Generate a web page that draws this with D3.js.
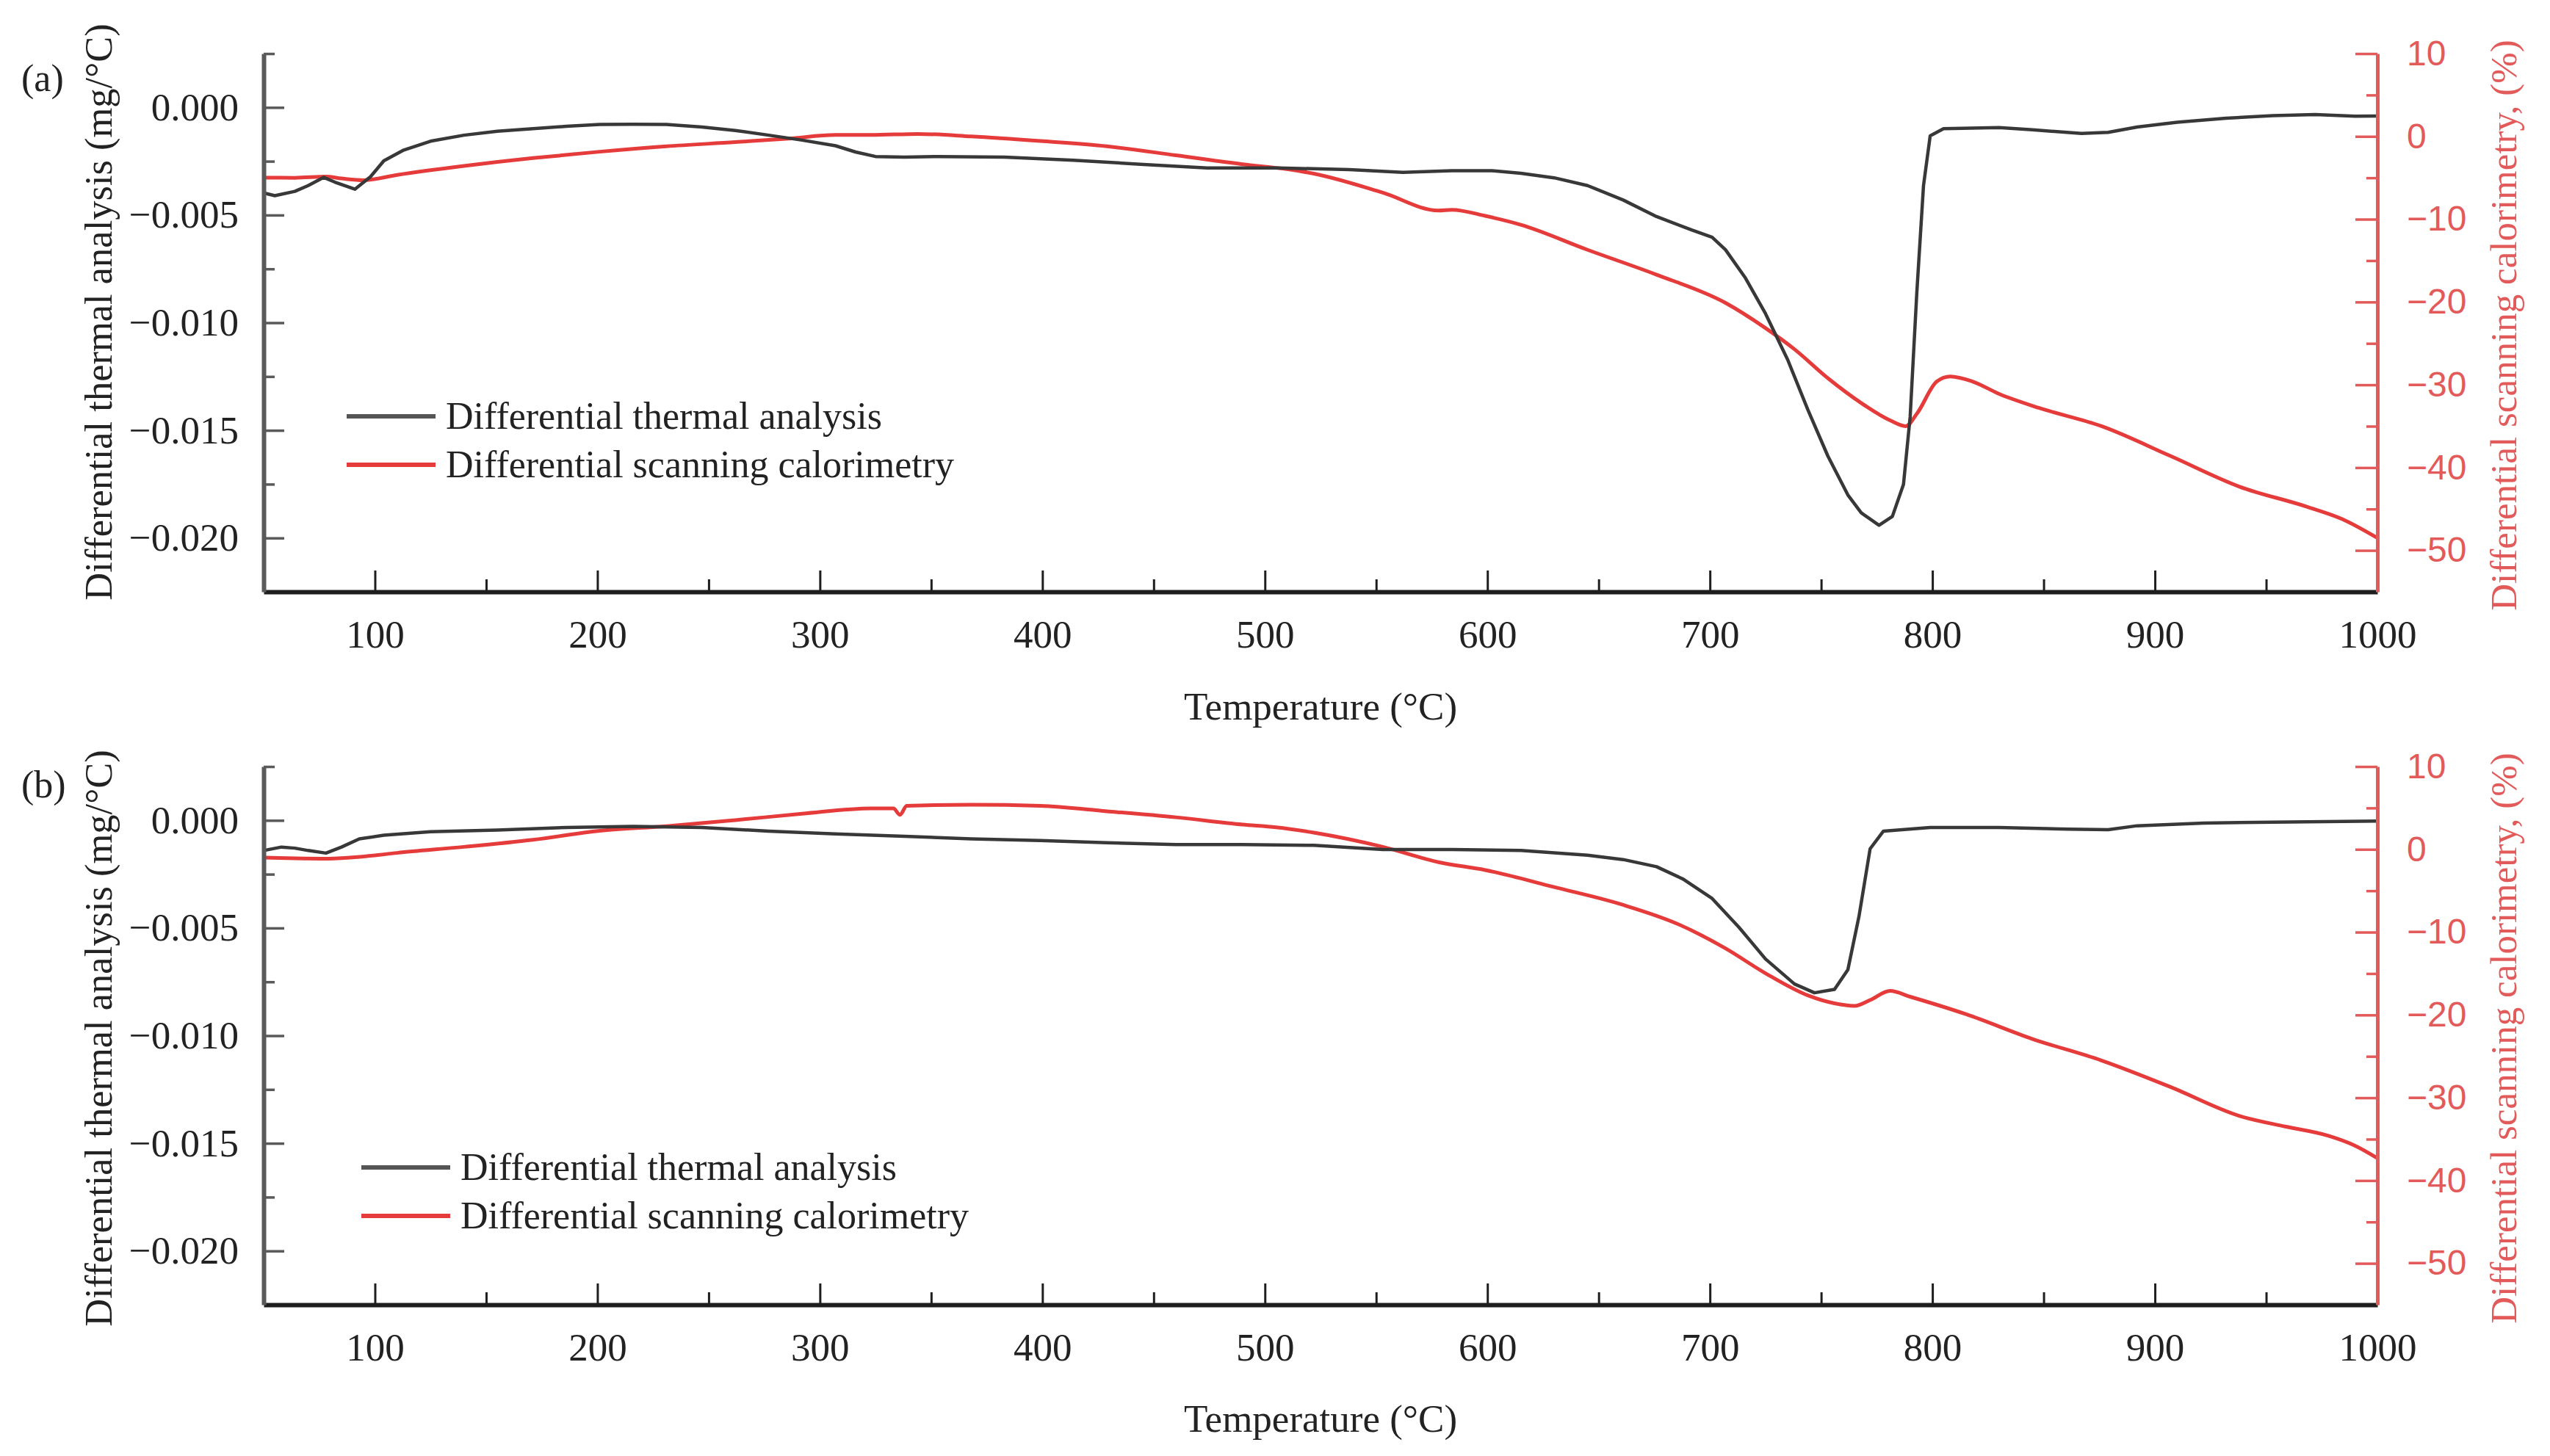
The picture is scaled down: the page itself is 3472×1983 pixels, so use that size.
<!DOCTYPE html>
<html>
<head>
<meta charset="utf-8">
<script src="https://cdn.jsdelivr.net/npm/d3@7"></script>
<style>
  html, body { margin: 0; padding: 0; background: #fff; }
  svg { display: block; }
</style>
</head>
<body>
<svg id="chart" width="3472" height="1983"></svg>
<script>
// ---------------- DATA ----------------
const xMajorTicks = [100, 200, 300, 400, 500, 600, 700, 800, 900, 1000];
const xMinorTicks = [150, 250, 350, 450, 550, 650, 750, 850, 950];
const leftMajorTicks = [0, -0.005, -0.010, -0.015, -0.020];
const leftMinorTicks = [0.0025, -0.0025, -0.0075, -0.0125, -0.0175];
const rightMajorTicks = [10, 0, -10, -20, -30, -40, -50];
const rightMinorTicks = [5, -5, -15, -25, -35, -45];
const panelLabels = ["(a)", "(b)"];
const seriesNames = ["Differential thermal analysis", "Differential scanning calorimetry"];
const xTitle = "Temperature (°C)";
const leftTitle = "Differential thermal analysis (mg/°C)";
const rightTitle = "Differential scanning calorimetry, (%)";

// panel (a) DTA [temperature °C, mg/°C]
const dtaA = [[50,-0.00397],[55,-0.0041],[64,-0.0039],[70,-0.00363],[77,-0.00325],[82,-0.00347],[91,-0.0038],[98,-0.00322],[104,-0.00248],[113,-0.00198],[125,-0.00157],[140,-0.00129],[155,-0.00111],[171,-0.00099],[186,-0.00088],[201,-0.00079],[216,-0.00078],[231,-0.00079],[247,-0.00091],[262,-0.00107],[277,-0.00129],[292,-0.00152],[307,-0.00178],[316,-0.00207],[325,-0.00228],[338,-0.00231],[353,-0.00228],[383,-0.00231],[414,-0.00245],[444,-0.00264],[474,-0.00281],[506,-0.00281],[538,-0.00289],[562,-0.00302],[584,-0.00294],[602,-0.00294],[615,-0.00306],[630,-0.00327],[645,-0.00363],[661,-0.0043],[676,-0.00507],[692,-0.0057],[701,-0.00603],[707,-0.00661],[716,-0.00793],[725,-0.00958],[735,-0.01173],[744,-0.01404],[753,-0.01619],[762,-0.018],[768,-0.01883],[776,-0.01941],[782,-0.019],[787,-0.01751],[790,-0.01437],[793,-0.00859],[796,-0.00363],[799,-0.00132],[805,-0.00099],[830,-0.00094],[845,-0.00104],[867,-0.00121],[879,-0.00116],[892,-0.00091],[910,-0.00069],[932,-0.0005],[953,-0.00038],[972,-0.00033],[990,-0.00041],[1000,-0.0004]];
// panel (a) DSC [temperature °C, %]
const dscA = [[50,-4.99],[64,-5.0],[78,-4.86],[85,-5.08],[95,-5.29],[110,-4.65],[140,-3.57],[171,-2.62],[201,-1.85],[231,-1.2],[262,-0.69],[286,-0.26],[307,0.17],[323,0.17],[344,0.3],[368,0],[399,-0.56],[429,-1.2],[460,-2.28],[490,-3.36],[511,-4.0],[522,-4.5],[553,-6.8],[578,-8.95],[584,-8.86],[599,-9.6],[615,-10.67],[645,-13.7],[676,-16.7],[707,-20.1],[725,-23.15],[738,-25.7],[753,-29.2],[768,-32.2],[781,-34.3],[788,-35.0],[793,-33.5],[802,-29.6],[808,-29.0],[818,-29.6],[830,-31.1],[848,-32.8],[876,-35.0],[907,-38.6],[938,-42.3],[968,-44.7],[984,-46.2],[1000,-48.5]];
// panel (b) DTA
const dtaB = [[50,-0.0014],[58,-0.00124],[64,-0.00129],[70,-0.0014],[78,-0.00152],[85,-0.00124],[93,-0.00086],[104,-0.00069],[125,-0.00053],[155,-0.00045],[186,-0.00033],[216,-0.00028],[247,-0.00033],[277,-0.0005],[307,-0.00063],[338,-0.00074],[368,-0.00086],[399,-0.00094],[429,-0.00104],[460,-0.00112],[490,-0.00112],[522,-0.00116],[553,-0.00135],[584,-0.00135],[615,-0.0014],[645,-0.00162],[661,-0.00182],[676,-0.00215],[688,-0.00273],[701,-0.00363],[713,-0.00496],[725,-0.00644],[738,-0.0076],[747,-0.00801],[756,-0.00785],[762,-0.00694],[767,-0.00446],[772,-0.00132],[778,-0.0005],[799,-0.00033],[830,-0.00033],[861,-0.00041],[879,-0.00043],[892,-0.00025],[922,-0.00013],[953,-0.00008],[1000,-0.00003]];
// panel (b) DSC
const dscB = [[50,-0.99],[64,-1.08],[79,-1.12],[95,-0.86],[110,-0.43],[140,0.3],[171,1.16],[201,2.24],[231,2.8],[262,3.53],[292,4.3],[323,4.95],[333,4.95],[336,4.17],[339,5.25],[368,5.38],[399,5.25],[429,4.6],[460,3.87],[490,3.0],[505,2.67],[522,2.02],[553,0.3],[578,-1.55],[599,-2.5],[630,-4.56],[661,-6.71],[685,-8.95],[707,-11.96],[725,-14.97],[744,-17.64],[756,-18.6],[765,-18.9],[772,-18.2],[781,-17.1],[790,-17.8],[815,-19.9],[845,-22.9],[876,-25.5],[907,-28.7],[938,-32.2],[959,-33.5],[978,-34.6],[990,-35.8],[1000,-37.3]];

const xDomain = [50, 1000];
const leftDomain = [-0.0225, 0.0025];
const rightDomain = [-55, 10];

// ---------------- LAYOUT / STYLE ----------------
const SERIF = "'Liberation Serif', 'Times New Roman', serif";
const SANS = "'Liberation Sans', Arial, sans-serif";
const C_DTA = "#383838";
const C_DSC = "#e53b3b";
const C_RAX = "#e35a5a";
const C_LAX = "#5a5a5a";

const plotLeft = 359, plotRight = 3237;
const panels = [
  { top: 73,   bottom: 806,  label: panelLabels[0], labelY: 124,  dta: dtaA, dsc: dscA,
    legX: 472, legY: 567, leftTitleCY: 425, rightTitleCY: 443, xTitleY: 980 },
  { top: 1044, bottom: 1777, label: panelLabels[1], labelY: 1086, dta: dtaB, dsc: dscB,
    legX: 492, legY: 1590, leftTitleCY: 1414, rightTitleCY: 1414, xTitleY: 1950 }
];

const svg = d3.select("#chart");
svg.append("rect").attr("width", 3472).attr("height", 1983).attr("fill", "#fff");

const x = d3.scaleLinear().domain(xDomain).range([plotLeft, plotRight]);

panels.forEach(p => {
  const g = svg.append("g");
  const yL = d3.scaleLinear().domain(leftDomain).range([p.bottom, p.top]);
  const yR = d3.scaleLinear().domain(rightDomain).range([p.bottom, p.top]);

  // ---- data lines
  const lineL = d3.line().x(d => x(d[0])).y(d => yL(d[1]));
  const lineR = d3.line().x(d => x(d[0])).y(d => yR(d[1])).curve(d3.curveMonotoneX);
  g.append("path").datum(p.dsc).attr("d", lineR)
    .attr("fill", "none").attr("stroke", C_DSC).attr("stroke-width", 5)
    .attr("stroke-linejoin", "round");
  g.append("path").datum(p.dta).attr("d", lineL)
    .attr("fill", "none").attr("stroke", C_DTA).attr("stroke-width", 4.5)
    .attr("stroke-linejoin", "round");

  // ---- bottom axis
  const xAx = g.append("g").attr("transform", `translate(0,${p.bottom})`)
    .call(d3.axisBottom(x).tickValues(xMajorTicks).tickFormat(d3.format("d"))
      .tickSizeInner(-29).tickSizeOuter(0).tickPadding(38));
  xAx.select(".domain").attr("stroke", "#1e1e1e").attr("stroke-width", 6);
  xAx.selectAll(".tick line").attr("stroke", "#1e1e1e").attr("stroke-width", 3);
  xAx.selectAll(".tick text").attr("font-family", SERIF).attr("font-size", 53).attr("fill", "#222");
  const xMin = g.append("g").attr("transform", `translate(0,${p.bottom})`)
    .call(d3.axisBottom(x).tickValues(xMinorTicks).tickFormat("").tickSizeInner(-17).tickSizeOuter(0));
  xMin.select(".domain").remove();
  xMin.selectAll(".tick line").attr("stroke", "#1e1e1e").attr("stroke-width", 3);

  // ---- left axis
  const lAx = g.append("g").attr("transform", `translate(${plotLeft},0)`)
    .call(d3.axisLeft(yL).tickValues(leftMajorTicks).tickFormat(d3.format(".3f"))
      .tickSizeInner(-28).tickSizeOuter(0).tickPadding(34));
  lAx.select(".domain").attr("stroke", C_LAX).attr("stroke-width", 6);
  lAx.selectAll(".tick line").attr("stroke", C_LAX).attr("stroke-width", 3.5);
  lAx.selectAll(".tick text").attr("font-family", SERIF).attr("font-size", 53).attr("fill", "#222");
  const lMin = g.append("g").attr("transform", `translate(${plotLeft},0)`)
    .call(d3.axisLeft(yL).tickValues(leftMinorTicks).tickFormat("").tickSizeInner(-15).tickSizeOuter(0));
  lMin.select(".domain").remove();
  lMin.selectAll(".tick line").attr("stroke", C_LAX).attr("stroke-width", 3.5);

  // ---- right axis
  const rAx = g.append("g").attr("transform", `translate(${plotRight},0)`)
    .call(d3.axisRight(yR).tickValues(rightMajorTicks).tickFormat(d3.format("d"))
      .tickSizeInner(-30).tickSizeOuter(0).tickPadding(40));
  rAx.select(".domain").attr("stroke", C_RAX).attr("stroke-width", 5);
  rAx.selectAll(".tick line").attr("stroke", C_RAX).attr("stroke-width", 3.5);
  rAx.selectAll(".tick text").attr("font-family", SANS).attr("font-size", 48).attr("fill", C_RAX);
  const rMin = g.append("g").attr("transform", `translate(${plotRight},0)`)
    .call(d3.axisRight(yR).tickValues(rightMinorTicks).tickFormat("").tickSizeInner(-15).tickSizeOuter(0));
  rMin.select(".domain").remove();
  rMin.selectAll(".tick line").attr("stroke", C_RAX).attr("stroke-width", 3.5);

  // ---- titles
  g.append("text").attr("x", (plotLeft + plotRight) / 2).attr("y", p.xTitleY)
    .attr("text-anchor", "middle").attr("font-family", SERIF).attr("font-size", 53)
    .attr("fill", "#222").text(xTitle);
  g.append("text").attr("transform", `translate(152,${p.leftTitleCY}) rotate(-90)`)
    .attr("text-anchor", "middle").attr("font-family", SERIF).attr("font-size", 52.5)
    .attr("fill", "#222").text(leftTitle);
  g.append("text").attr("transform", `translate(3426,${p.rightTitleCY}) rotate(-90)`)
    .attr("text-anchor", "middle").attr("font-family", SERIF).attr("font-size", 51)
    .attr("fill", C_RAX).text(rightTitle);
  g.append("text").attr("x", 29).attr("y", p.labelY)
    .attr("font-family", SERIF).attr("font-size", 52).attr("fill", "#222").text(p.label);

  // ---- legend
  const legend = [
    { name: seriesNames[0], color: "#555" },
    { name: seriesNames[1], color: C_DSC }
  ];
  legend.forEach((it, i) => {
    const yy = p.legY + i * 66;
    g.append("line").attr("x1", p.legX).attr("x2", p.legX + 121)
      .attr("y1", yy).attr("y2", yy).attr("stroke", it.color).attr("stroke-width", 6);
    g.append("text").attr("x", p.legX + 135).attr("y", yy + 17)
      .attr("font-family", SERIF).attr("font-size", 52).attr("fill", "#222").text(it.name);
  });
});
</script>
</body>
</html>
